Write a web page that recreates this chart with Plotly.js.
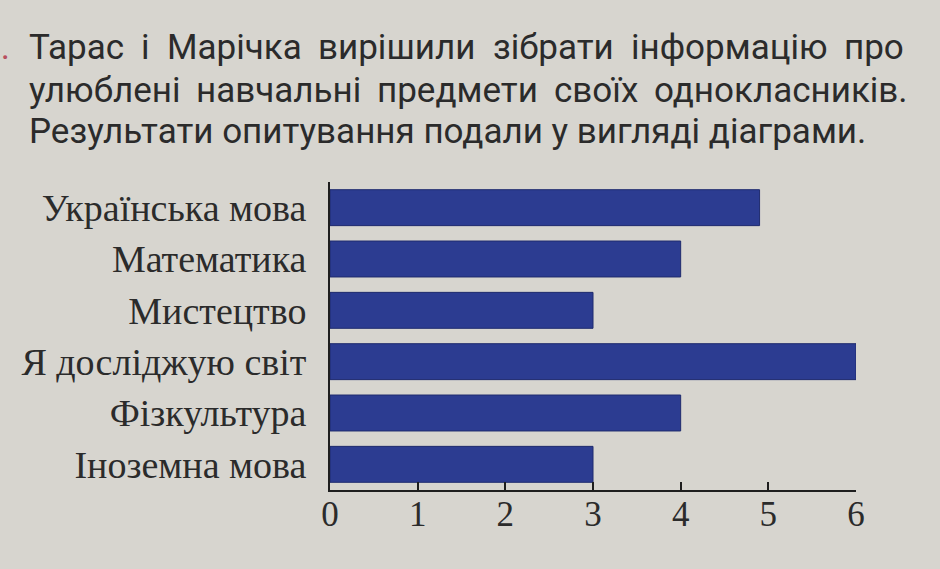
<!DOCTYPE html>
<html>
<head>
<meta charset="utf-8">
<script src="https://cdn.plot.ly/plotly-3.0.1.min.js"></script>
<style>
  html, body { margin: 0; padding: 0; background: #d7d5cf; }
  #chart { width: 940px; height: 569px; }
</style>
</head>
<body>
<div id="chart"></div>
<script>
// ---- data ----
const subjects = ["Українська мова", "Математика", "Мистецтво", "Я досліджую світ", "Фізкультура", "Іноземна мова"];
const votes = [4.9, 4, 3, 6, 4, 3];
const xTicks = [0, 1, 2, 3, 4, 5, 6];
const taskNumber = "3.";
const line1Words = ["Тарас", "і", "Марічка", "вирішили", "зібрати", "інформацію", "про"];
const line2Words = ["улюблені", "навчальні", "предмети", "своїх", "однокласників."];
const line3Text = "Результати опитування подали у вигляді діаграми.";

// ---- layout helpers (pixel -> paper) ----
const W = 940, H = 569;
const M = { l: 330, r: 84, t: 182, b: 79 };
const pw = W - M.l - M.r, ph = H - M.t - M.b;
const px = v => (v - M.l) / pw;
const py = v => (H - M.b - v) / ph;

const ink = "#2b2b2b";
const fontSize = 35;
const sansFamily = "Roboto, 'Noto Sans', sans-serif";
const sansFont = { family: sansFamily, size: fontSize, color: ink };
const serif = "'Liberation Serif', 'DejaVu Serif', serif";

// justify a line of words between two pixel edges
const ctx = document.createElement("canvas").getContext("2d");
ctx.font = fontSize + "px Roboto";
function justify(words, left, right) {
  const widths = words.map(w => ctx.measureText(w).width);
  const total = widths.reduce((a, b) => a + b, 0);
  const gap = (right - left - total) / (words.length - 1);
  const xs = [];
  let cur = left;
  widths.forEach(w => { xs.push(cur); cur += w + gap; });
  return xs;
}
const line1X = justify(line1Words, 27, 902);
const line2X = justify(line2Words, 27, 906);

const annotations = [];
line1Words.forEach((w, i) => annotations.push({
  text: w, xref: "paper", yref: "paper", x: px(line1X[i]), y: py(48),
  xanchor: "left", yanchor: "middle", showarrow: false, font: sansFont
}));
line2Words.forEach((w, i) => annotations.push({
  text: w, xref: "paper", yref: "paper", x: px(line2X[i]), y: py(90),
  xanchor: "left", yanchor: "middle", showarrow: false, font: sansFont
}));
annotations.push({
  text: line3Text, xref: "paper", yref: "paper", x: px(27), y: py(132),
  xanchor: "left", yanchor: "middle", showarrow: false, font: sansFont
});
annotations.push({
  text: taskNumber, xref: "paper", yref: "paper", x: px(12), y: py(48),
  xanchor: "right", yanchor: "middle", showarrow: false,
  font: { family: sansFamily, size: fontSize, color: "#b8505f" }
});

const trace = {
  type: "bar",
  orientation: "h",
  y: subjects,
  x: votes,
  marker: { color: "#2c3c91", line: { color: "#1f2b6e", width: 1 } },
  hoverinfo: "skip"
};

const layout = {
  width: W, height: H,
  margin: M,
  paper_bgcolor: "#d7d5cf",
  plot_bgcolor: "#d7d5cf",
  showlegend: false,
  bargap: 0.3,
  xaxis: {
    range: [0, 6],
    tickvals: xTicks,
    ticktext: xTicks.map(String),
    ticks: "inside", ticklen: 8, tickwidth: 2, tickcolor: "#1e1e1e",
    showline: true, linewidth: 2, linecolor: "#1e1e1e",
    showgrid: false, zeroline: false,
    tickfont: { family: serif, size: 35, color: ink },
    ticklabelstandoff: -8,
    fixedrange: true
  },
  yaxis: {
    type: "category",
    autorange: "reversed",
    ticks: "",
    showline: true, linewidth: 2, linecolor: "#1e1e1e",
    showgrid: false, zeroline: false,
    tickfont: { family: serif, size: 38, color: ink },
    ticklabelstandoff: 14,
    fixedrange: true
  },
  annotations: annotations
};

Plotly.newPlot("chart", [trace], layout, { displayModeBar: false, staticPlot: true });
</script>
</body>
</html>
